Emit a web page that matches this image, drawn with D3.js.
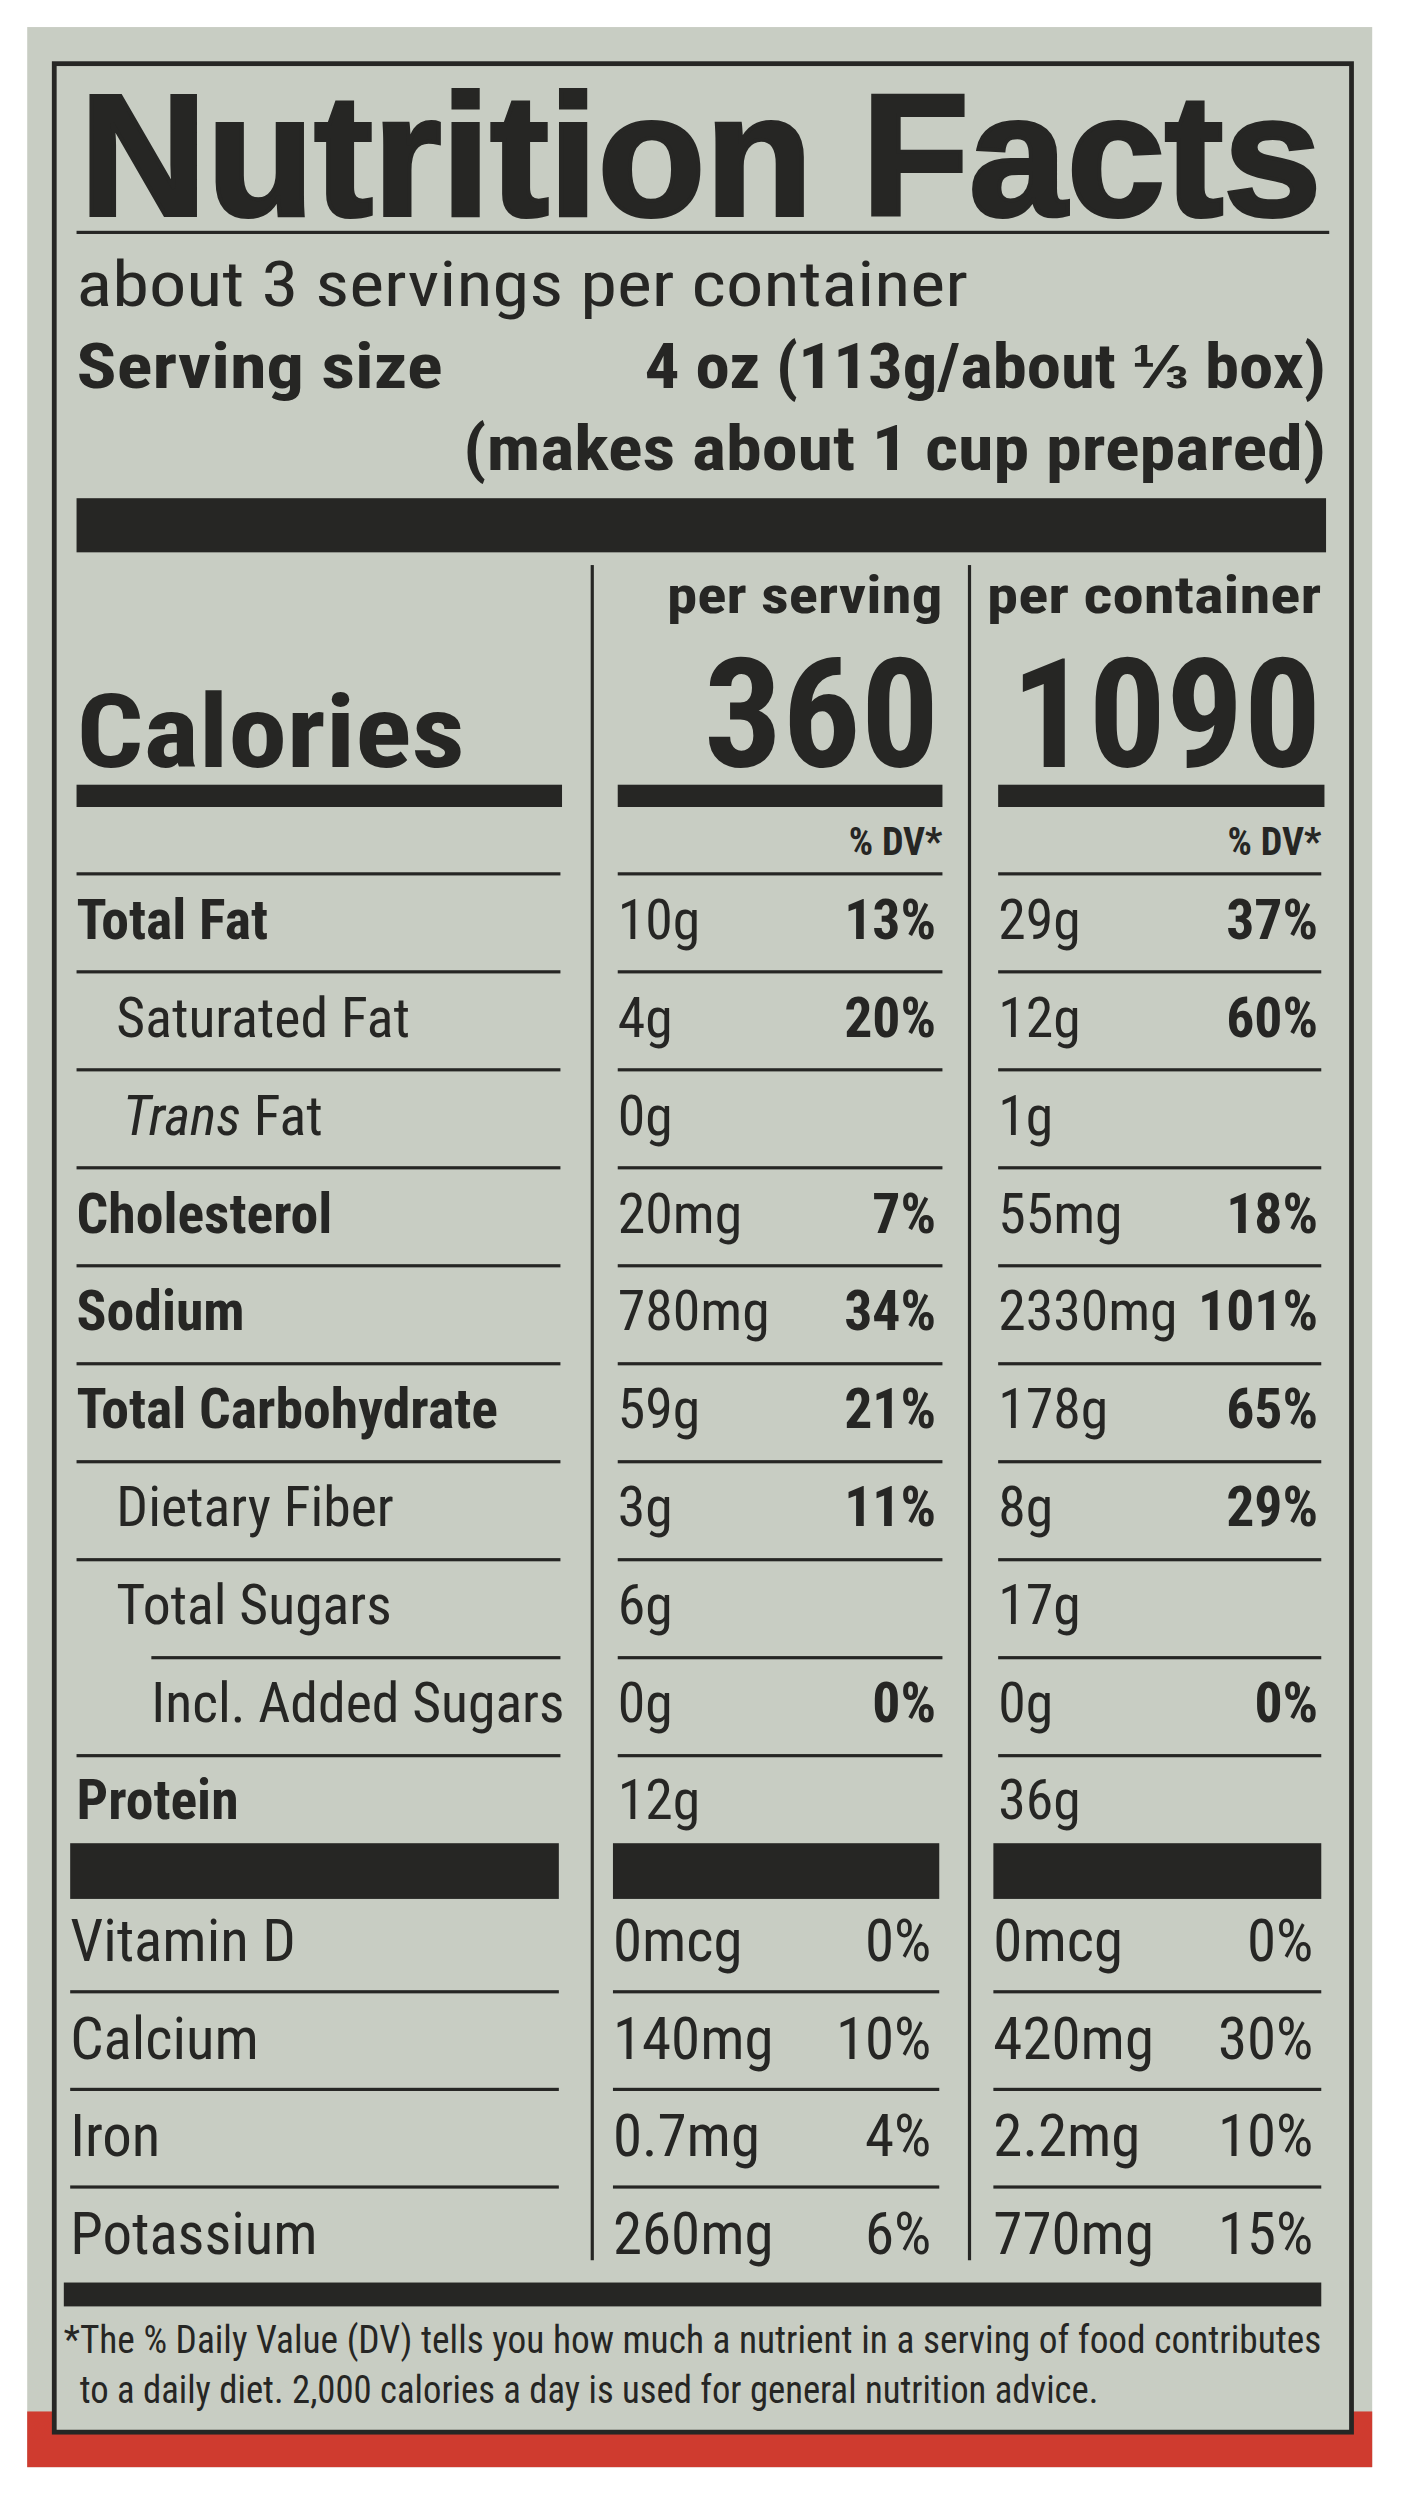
<!DOCTYPE html>
<html><head><meta charset="utf-8">
<script src="https://cdn.jsdelivr.net/npm/d3@7"></script>
<style>body{margin:0;background:#fff}</style></head>
<body><svg id="c" width="1401" height="2499" viewBox="0 0 880 1570"></svg>
<script>
const nutrients = ["Total Fat","Saturated Fat","Trans Fat","Cholesterol","Sodium","Total Carbohydrate","Dietary Fiber","Total Sugars","Incl. Added Sugars","Protein"];
const indent = [0,1,1,0,0,0,1,1,2,0];
const boldRow = [1,0,0,1,1,1,0,0,0,1];
const perServingAmt = ["10g","4g","0g","20mg","780mg","59g","3g","6g","0g","12g"];
const perServingDV = ["13%","20%","","7%","34%","21%","11%","","0%",""];
const perContainerAmt = ["29g","12g","1g","55mg","2330mg","178g","8g","17g","0g","36g"];
const perContainerDV = ["37%","60%","","18%","101%","65%","29%","","0%",""];
const vitamins = ["Vitamin D","Calcium","Iron","Potassium"];
const vitServingAmt = ["0mcg","140mg","0.7mg","260mg"];
const vitServingDV = ["0%","10%","4%","6%"];
const vitContainerAmt = ["0mcg","420mg","2.2mg","770mg"];
const vitContainerDV = ["0%","30%","10%","15%"];
const calories = [360, 1090];

const svg = d3.select("#c");
const ink = "#262624", F = "'Liberation Sans Narrow','Roboto Condensed','Liberation Sans',sans-serif";
svg.append("rect").attr("x",17).attr("y",17).attr("width",845).attr("height",1533).attr("fill","#c8cdc3");
svg.append("rect").attr("x",17).attr("y",1515).attr("width",845).attr("height",35).attr("fill","#cf3b2f");
svg.append("rect").attr("x",34).attr("y",40).attr("width",815).attr("height",1488).attr("fill","#c8cdc3").attr("stroke",ink).attr("stroke-width",3);
function t(x,y,s,size,w,anchor,len){const e=svg.append("text").attr("x",x).attr("y",y).text(s).attr("font-family",F).attr("font-size",size).attr("font-weight",w?"bold":"normal").attr("fill",ink).attr("text-anchor",anchor||"start");if(len)e.attr("textLength",len).attr("lengthAdjust","spacingAndGlyphs");return e;}
function r(x,y,w,h){svg.append("rect").attr("x",x).attr("y",y).attr("width",w).attr("height",h).attr("fill",ink);}
t(50,135,"Nutrition Facts",108,1,"start",780).attr("font-family","'Liberation Sans',Arial,sans-serif").attr("stroke",ink).attr("stroke-width",2.5);
r(48,145,787,2);
t(48,192,"about 3 servings per container",40,0,"start",560);
t(48,244,"Serving size",40,1,"start",230);
t(833,244,"4 oz (113g/about ⅓ box)",40,1,"end",428);
t(833,295,"(makes about 1 cup prepared)",40,1,"end",542);
r(48,313,785,34);
r(371,355,2,1065); r(608,355,2,1065);
t(592,385,"per serving",32,1,"end",173);
t(830,385,"per container",32,1,"end",210);
t(48,482,"Calories",64,1,"start",244);
const calX=[590,830];
calories.forEach((c,i)=>t(calX[i],482,c,96,1,"end",i?195:148));
r(48,493,305,14); r(388,493,204,14); r(627,493,205,14);
t(592,537,"% DV*",24,1,"end"); t(830,537,"% DV*",24,1,"end");
const cols=[[48,352],[388,592],[627,830]];
const y = d3.scaleLinear().domain([0,9]).range([590,1143]);
const sepY = d3.scaleLinear().domain([0,9]).range([548,1102]);
nutrients.forEach((n,i)=>{
  const ly=sepY(i);
  cols.forEach((c,j)=>{const x0=j===0?(i===8?95:48):c[0]; r(x0,ly,c[1]-x0,2);});
  const x=48+indent[i]*25;
  if(n==="Trans Fat"){const e=t(x+4,y(i),"",35,0);e.append("tspan").attr("font-style","italic").text("Trans");e.append("tspan").text(" Fat");}
  else t(indent[i]===2?95:x,y(i),n,35,boldRow[i]);
  t(388,y(i),perServingAmt[i],35,0); t(588,y(i),perServingDV[i],35,1,"end");
  t(627,y(i),perContainerAmt[i],35,0); t(828,y(i),perContainerDV[i],35,1,"end");
});
r(44,1158,307,35); r(385,1158,205,35); r(624,1158,206,35);
const vy=d3.scaleLinear().domain([0,3]).range([1232,1416]);
vitamins.forEach((v,i)=>{
  if(i>0){const ly=vy(i)-43; r(44,ly,307,2); r(385,ly,205,2); r(624,ly,206,2);}
  t(44,vy(i),v,37,0);
  t(385,vy(i),vitServingAmt[i],37,0); t(585,vy(i),vitServingDV[i],37,0,"end");
  t(624,vy(i),vitContainerAmt[i],37,0); t(825,vy(i),vitContainerDV[i],37,0,"end");
});
r(40,1434,790,15);
t(40,1478,"*The % Daily Value (DV) tells you how much a nutrient in a serving of food contributes",24,0,"start",790);
t(50,1510,"to a daily diet. 2,000 calories a day is used for general nutrition advice.",24,0,"start",640);
</script></body></html>
